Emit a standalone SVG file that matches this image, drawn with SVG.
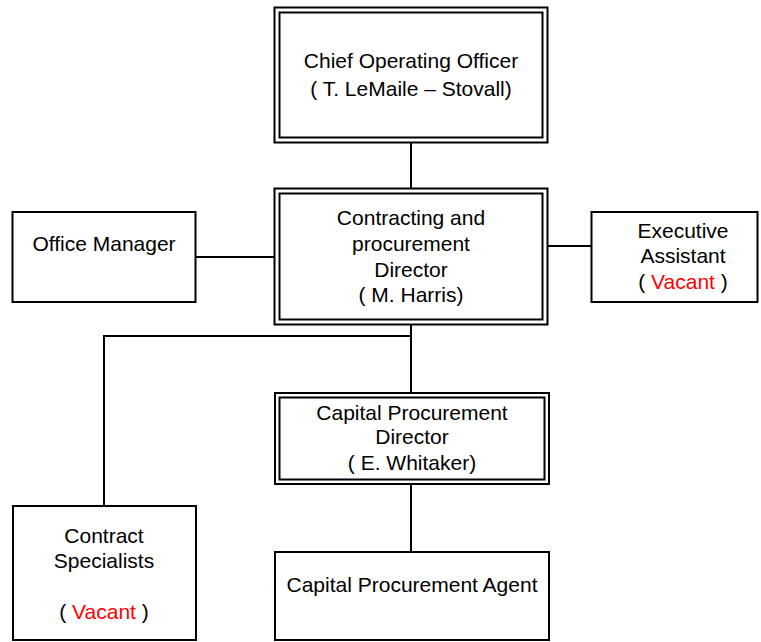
<svg xmlns="http://www.w3.org/2000/svg" width="761" height="642" viewBox="0 0 761 642">
<style>
.box{fill:#fff;stroke:#000;stroke-width:2}
.t{font-family:"Liberation Sans",Arial,sans-serif;font-size:21px;fill:#000;text-anchor:middle}
.red{fill:#ff0000}
.ln{stroke:#000;stroke-width:2;fill:none}
</style>
<rect width="761" height="642" fill="#fff"/>
<g id="connectors">
<line class="ln" x1="411" y1="142" x2="411" y2="188"/>
<line class="ln" x1="195" y1="257" x2="274" y2="257"/>
<line class="ln" x1="547" y1="246" x2="591" y2="246"/>
<line class="ln" x1="411" y1="325" x2="411" y2="393"/>
<polyline class="ln" points="411,336 104,336 104,506"/>
<line class="ln" x1="411" y1="484" x2="411" y2="552"/>
</g>
<g id="coo">
<rect class="box" x="274.5" y="7.5" width="273" height="135"/>
<rect class="box" x="279.5" y="12.5" width="263" height="125"/>
<text class="t" x="411" y="68">Chief Operating Officer</text>
<text class="t" x="411" y="96">( T. LeMaile – Stovall)</text>
</g>
<g id="contracting-director">
<rect class="box" x="274.5" y="188.5" width="273" height="136"/>
<rect class="box" x="279.5" y="193.5" width="263" height="126"/>
<text class="t" x="411" y="225">Contracting and</text>
<text class="t" x="411" y="251">procurement</text>
<text class="t" x="411" y="277">Director</text>
<text class="t" x="411" y="302">( M. Harris)</text>
</g>
<g id="office-manager">
<rect class="box" x="12.5" y="212" width="183" height="90"/>
<text class="t" x="104" y="251">Office Manager</text>
</g>
<g id="executive-assistant">
<rect class="box" x="591.5" y="212" width="166" height="90"/>
<text class="t" x="683" y="238">Executive</text>
<text class="t" x="683" y="263">Assistant</text>
<text class="t" x="683" y="289">( <tspan class="red">Vacant</tspan> )</text>
</g>
<g id="capital-procurement-director">
<rect class="box" x="275" y="393" width="274" height="91"/>
<rect class="box" x="279.5" y="397.5" width="265" height="82"/>
<text class="t" x="412" y="420">Capital Procurement</text>
<text class="t" x="412" y="444">Director</text>
<text class="t" x="412" y="470">( E. Whitaker)</text>
</g>
<g id="contract-specialists">
<rect class="box" x="13" y="506" width="183" height="134"/>
<text class="t" x="104" y="543">Contract</text>
<text class="t" x="104" y="568">Specialists</text>
<text class="t" x="104" y="619">( <tspan class="red">Vacant</tspan> )</text>
</g>
<g id="capital-procurement-agent">
<rect class="box" x="275" y="552" width="274" height="88"/>
<text class="t" x="412" y="592">Capital Procurement Agent</text>
</g>
</svg>
